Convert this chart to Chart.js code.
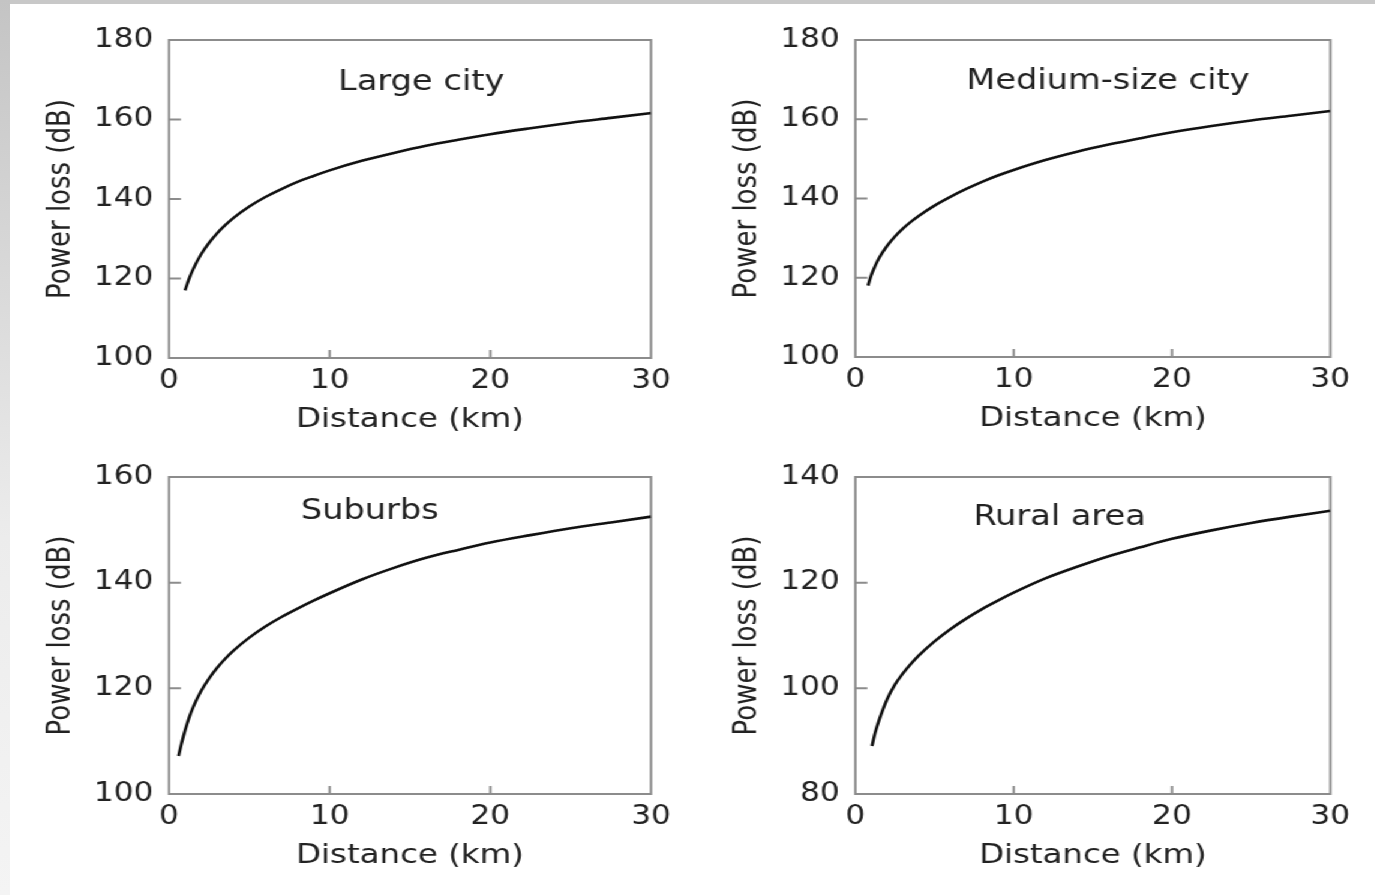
<!DOCTYPE html>
<html>
<head>
<meta charset="utf-8">
<script src="https://cdn.jsdelivr.net/npm/chart.js@4/dist/chart.umd.min.js"></script>
<style>
  html, body { margin: 0; padding: 0; background: #fff; }
  body { width: 1375px; height: 895px; position: relative; overflow: hidden; }
  #topband { position: absolute; left: 0; top: 0; width: 1375px; height: 4px; background: #c8c8c8; }
  #leftband { position: absolute; left: 0; top: 0; width: 10px; height: 895px; background: linear-gradient(#c4c4c4, #ececec 60%, #f4f4f4); }
  /* the source figure is stretched sideways, so the charts are too */
  #wrap { position: absolute; left: 0; top: 0; width: 1146px; height: 895px; transform: scaleX(1.2); transform-origin: 0 0; }
  canvas { position: absolute; }
</style>
</head>
<body>
<div id="topband"></div>
<div id="leftband"></div>
<div id="wrap">
  <canvas id="c1"></canvas>
  <canvas id="c2"></canvas>
  <canvas id="c3"></canvas>
  <canvas id="c4"></canvas>
</div>
<script>
// values (km, dB)
const distLarge = [1, 1.25, 1.5, 2, 2.5, 3, 3.5, 4, 5, 6, 7, 8, 9, 10, 12, 14, 16, 18, 20, 22.5, 25, 27.5, 30];
const lossLarge = [117.0, 119.9, 122.3, 126.1, 129.0, 131.4, 133.4, 135.2, 138.1, 140.5, 142.5, 144.3, 145.8, 147.2,
                   149.6, 151.6, 153.4, 154.9, 156.3, 157.8, 159.2, 160.4, 161.6];

const distMedium = [0.8, 1, 1.25, 1.5, 2, 2.5, 3, 3.5, 4, 5, 6, 7, 8, 9, 10, 12, 14, 16, 18, 20, 22.5, 25, 27.5, 30];
const lossMedium = [118.0, 120.6, 123.0, 125.0, 128.0, 130.4, 132.4, 134.1, 135.6, 138.2, 140.4, 142.4, 144.2, 145.8,
                    147.2, 149.7, 151.8, 153.6, 155.2, 156.7, 158.3, 159.7, 160.9, 162.1];

const distSuburbs = [0.6, 0.8, 1, 1.25, 1.5, 2, 2.5, 3, 3.5, 4, 5, 6, 7, 8, 9, 10, 12, 14, 16, 18, 20, 22.5, 25, 27.5, 30];
const lossSuburbs = [107.2, 109.8, 112.0, 114.4, 116.4, 119.5, 121.9, 123.9, 125.6, 127.1, 129.6, 131.7, 133.5, 135.1,
                     136.6, 138.0, 140.6, 142.8, 144.7, 146.2, 147.6, 149.0, 150.3, 151.4, 152.5];

const distRural = [1.05, 1.25, 1.5, 2, 2.5, 3, 3.5, 4, 5, 6, 7, 8, 9, 10, 12, 14, 16, 18, 20, 22.5, 25, 27.5, 30];
const lossRural = [89.1, 91.6, 94.0, 97.9, 100.7, 102.8, 104.6, 106.2, 108.9, 111.2, 113.2, 115.0, 116.6, 118.1,
                   120.8, 123.0, 125.0, 126.7, 128.3, 129.9, 131.3, 132.5, 133.6];

const xTicks = [0, 10, 20, 30];
const yRangeLarge = [100, 180];
const yRangeMedium = [100, 180];
const yRangeSuburbs = [100, 160];
const yRangeRural = [80, 140];

const FONT = '"DejaVu Sans", sans-serif';
const TEXT = '#222';

// box + inward tick marks + the panel name
const framePlugin = {
  id: 'frame',
  beforeDatasetsDraw(chart, args, opts) {
    const { ctx, chartArea: a, scales: { x, y } } = chart;
    ctx.save();
    ctx.strokeStyle = '#8c8c8c';
    ctx.lineWidth = 2;
    ctx.strokeRect(a.left, a.top, a.width, a.height);
    ctx.beginPath();
    x.ticks.forEach(t => {
      if (t.value > x.min && t.value < x.max) {
        const px = x.getPixelForValue(t.value);
        ctx.moveTo(px, a.bottom);
        ctx.lineTo(px, a.bottom - 8);
      }
    });
    y.ticks.forEach(t => {
      if (t.value > y.min && t.value < y.max) {
        const py = y.getPixelForValue(t.value);
        ctx.moveTo(a.left, py);
        ctx.lineTo(a.left + 10, py);
      }
    });
    ctx.stroke();
    ctx.fillStyle = TEXT;
    ctx.font = '28px ' + FONT;
    ctx.textAlign = 'center';
    ctx.textBaseline = 'middle';
    ctx.fillText(opts.text, x.getPixelForValue(opts.at[0]), y.getPixelForValue(opts.at[1]));
    ctx.restore();
  }
};

function makePanel(id, left, top, areaW, areaH, dist, loss, yRange, name, namePos) {
  const yAxisW = 140.8, padTop = 40, padRight = 27.5, xAxisH = 80;
  const canvas = document.getElementById(id);
  canvas.width = Math.round(yAxisW + areaW + padRight);
  canvas.height = Math.round(padTop + areaH + xAxisH);
  canvas.style.left = left + 'px';
  canvas.style.top = top + 'px';
  new Chart(canvas.getContext('2d'), {
    type: 'line',
    data: {
      datasets: [{
        data: dist.map((d, i) => ({ x: d, y: loss[i] })),
        borderColor: '#111',
        borderWidth: 2.6,
        pointRadius: 0,
        fill: false,
        cubicInterpolationMode: 'monotone'
      }]
    },
    options: {
      responsive: false,
      animation: false,
      devicePixelRatio: 1,
      layout: { padding: { left: 0, top: padTop, right: canvas.width - yAxisW - areaW, bottom: 0 } },
      plugins: {
        legend: { display: false },
        tooltip: { enabled: false },
        frame: { text: name, at: namePos }
      },
      scales: {
        x: {
          type: 'linear',
          min: xTicks[0],
          max: xTicks[xTicks.length - 1],
          afterBuildTicks: s => { s.ticks = xTicks.map(v => ({ value: v })); },
          afterFit: s => { s.height = xAxisH; },
          grid: { display: false, drawTicks: false },
          border: { display: false },
          ticks: { padding: 8, color: TEXT, font: { family: FONT, size: 26 } },
          title: { display: true, text: 'Distance (km)', color: TEXT, font: { family: FONT, size: 27 }, padding: { top: 0, bottom: 1.5 } }
        },
        y: {
          min: yRange[0],
          max: yRange[1],
          ticks: { stepSize: 20, padding: 13, color: TEXT, font: { family: FONT, size: 26 } },
          afterFit: s => { s.width = yAxisW; },
          grid: { display: false, drawTicks: false },
          border: { display: false },
          title: { display: true, text: 'Power loss (dB)', color: TEXT, font: { family: FONT, size: 26 }, padding: { top: 35.6, bottom: 0 } }
        }
      }
    },
    plugins: [framePlugin]
  });
}

makePanel('c1', 0, 0, 401.7, 318, distLarge, lossLarge, yRangeLarge, 'Large city', [15.7, 169.2]);
makePanel('c2', 571.7, 0, 395.8, 317, distMedium, lossMedium, yRangeMedium, 'Medium-size city', [15.95, 169.4]);
makePanel('c3', 0, 437, 401.7, 317, distSuburbs, lossSuburbs, yRangeSuburbs, 'Suburbs', [12.5, 153.5]);
makePanel('c4', 571.7, 437, 395.8, 317, distRural, lossRural, yRangeRural, 'Rural area', [12.9, 132.2]);
</script>
</body>
</html>
